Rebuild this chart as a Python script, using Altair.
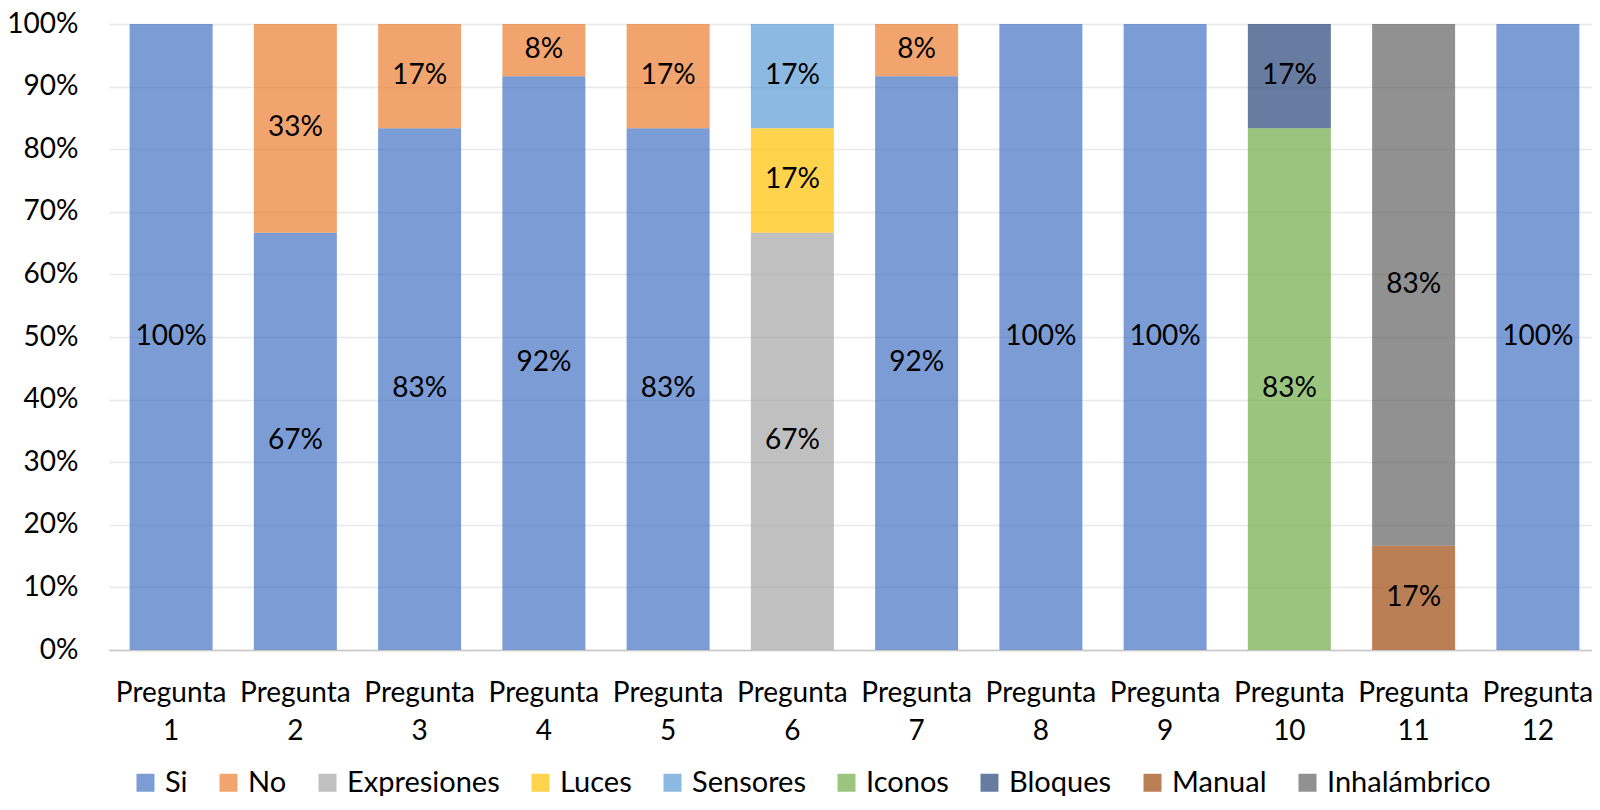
import altair as alt
import pandas as pd

categories = [f"Pregunta {i}" for i in range(1, 13)]
series = ["Si", "No", "Expresiones", "Luces", "Sensores", "Iconos", "Bloques", "Manual", "Inhalámbrico"]
colors = ["#4472C4", "#ED7D31", "#A5A5A5", "#FFC000", "#5B9BD5", "#70AD47", "#264478", "#9E480E", "#636363"]

si = [100, 66.67, 83.33, 91.67, 83.33, 0, 91.67, 100, 100, 0, 0, 100]
no = [0, 33.33, 16.67, 8.33, 16.67, 0, 8.33, 0, 0, 0, 0, 0]
expresiones = [0, 0, 0, 0, 0, 66.67, 0, 0, 0, 0, 0, 0]
luces = [0, 0, 0, 0, 0, 16.67, 0, 0, 0, 0, 0, 0]
sensores = [0, 0, 0, 0, 0, 16.67, 0, 0, 0, 0, 0, 0]
iconos = [0, 0, 0, 0, 0, 0, 0, 0, 0, 83.33, 0, 0]
bloques = [0, 0, 0, 0, 0, 0, 0, 0, 0, 16.67, 0, 0]
manual = [0, 0, 0, 0, 0, 0, 0, 0, 0, 0, 16.67, 0]
inalambrico = [0, 0, 0, 0, 0, 0, 0, 0, 0, 0, 83.33, 0]

all_vals = [si, no, expresiones, luces, sensores, iconos, bloques, manual, inalambrico]
rows = []
for k, (name, vals) in enumerate(zip(series, all_vals)):
    for cat, v in zip(categories, vals):
        if v > 0:
            rows.append({"q": cat, "serie": name, "ord": k, "pct": v})
df = pd.DataFrame(rows)

FONT = "Lato"

base = alt.Chart(df).transform_calculate(
    val="datum.pct / 100"
).transform_stack(
    stack="val", groupby=["q"], as_=["y0", "y1"], sort=[alt.SortField("ord", order="ascending")]
).transform_calculate(
    mid="(datum.y0 + datum.y1) / 2"
)

xscale = alt.Scale(paddingInner=0.332, paddingOuter=0.1338, align=0.62)

xenc = alt.X("q:N", sort=categories, title=None, scale=xscale,
             axis=alt.Axis(labelAngle=0, labelExpr="split(datum.label, ' ')",
                           labelFont=FONT, labelFontSize=28, labelColor="#000000",
                           labelLineHeight=38, labelPadding=29, labelBaseline="top",
                           labelOverlap=False,
                           ticks=False, domain=True, domainColor="#C8C8C8", domainWidth=1.5,
                           grid=False))

bars = base.mark_bar(fillOpacity=0.7, strokeWidth=0).encode(
    x=xenc,
    y=alt.Y("y0:Q", scale=alt.Scale(domain=[0, 1]), title=None,
            axis=alt.Axis(values=[i / 10 for i in range(11)], format=".0%",
                          labelFont=FONT, labelFontSize=28, labelColor="#000000",
                          labelPadding=31, ticks=False, domain=False,
                          grid=True, gridColor="#E8E8E8", gridWidth=1.5)),
    y2="y1:Q",
    color=alt.Color("serie:N", scale=alt.Scale(domain=series, range=colors),
                    legend=alt.Legend(orient="none", legendX=22, legendY=744, direction="horizontal",
                                      title=None, symbolType="square", symbolSize=324,
                                      symbolOpacity=0.7, symbolStrokeWidth=0,
                                      labelFont=FONT, labelFontSize=29, labelColor="#000000",
                                      labelOffset=5, columnPadding=26, padding=0,
                                      labelLimit=0, columns=9)),
)

labels = base.mark_text(font=FONT, fontSize=28, color="#000000", baseline="middle").encode(
    x=alt.X("q:N", sort=categories, scale=xscale),
    y=alt.Y("mid:Q", scale=alt.Scale(domain=[0, 1])),
    text=alt.Text("val:Q", format=".0%"),
)

chart = (bars + labels).properties(
    width=1483, height=626,
    autosize=alt.AutoSizeParams(type="none"),
    padding={"left": 101, "top": 16, "right": 0, "bottom": 146},
).configure_view(stroke=None)

chart.save("out.html", embed_options={"renderer": "svg", "actions": False})
